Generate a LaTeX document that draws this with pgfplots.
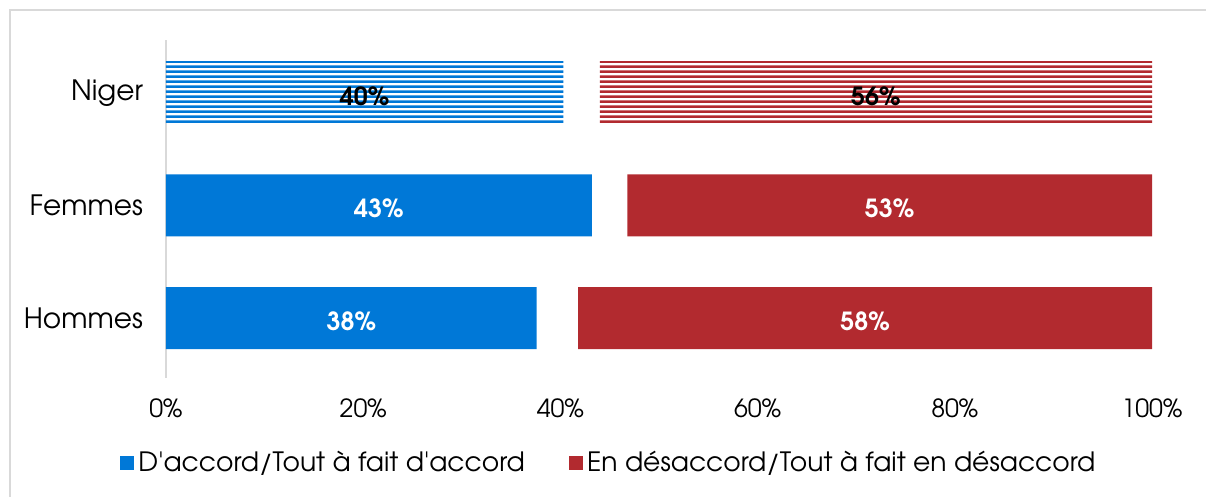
\documentclass[border=0pt]{standalone}
\usepackage{fontspec}
\setmainfont{TeX Gyre Adventor}
\usepackage{pgfplots}
\pgfplotsset{compat=1.18}
\usetikzlibrary{patterns.meta}
\definecolor{clrAgree}{RGB}{0,120,215}
\definecolor{clrDisagree}{RGB}{178,42,47}
\definecolor{clrFrame}{RGB}{217,217,217}

% horizontal stripes for the Niger row
\pgfdeclarepattern{
  name=hstripes, type=uncolored,
  bottom left={\pgfpoint{0pt}{0pt}}, top right={\pgfpoint{20pt}{2.4pt}},
  tile size={\pgfpoint{20pt}{2.4pt}},
  code={\pgfpathrectangle{\pgfpoint{-0.5pt}{0pt}}{\pgfpoint{21pt}{1.3pt}}\pgfusepath{fill}}}

\begin{document}
\begin{tikzpicture}
% 1 px of the reference = 0.5pt; origin = axis south west (px 166,378)
\useasboundingbox (-83pt,-59.5pt) rectangle (520pt,189pt);
\draw[clrFrame, line width=1pt] (-78pt,-70pt) rectangle (530pt,184pt);
\begin{axis}[
  xbar stacked,
  scale only axis,
  width=493pt, height=169pt,
  bar width=31pt,
  xmin=0, xmax=100,
  ymin=-0.533, ymax=2.47,
  ytick={0,1,2},
  yticklabels={Hommes, Femmes, Niger},
  xtick={0,20,...,100},
  xticklabel={\pgfmathprintnumber{\tick}\%},
  major tick length=0pt,
  axis x line*=bottom, axis y line*=left,
  x axis line style={draw=none},
  y axis line style={draw=clrFrame, line width=1pt, -},
  tick label style={font=\fontsize{12.5}{14}\selectfont, text=black},
  yticklabel style={xshift=-8pt, font=\fontsize{14}{16}\selectfont},
  xticklabel style={yshift=-7pt},
  /pgf/number format/assume math mode=true,
  point meta=explicit symbolic,
  nodes near coords,
  every node near coord/.append style={
    font=\bfseries\fontsize{12.5}{14}\selectfont, anchor=center, yshift=-1.5pt},
  legend style={at={(0.45,-0.251)}, anchor=center, draw=none,
    legend columns=2, font=\fontsize{13.3}{15}\selectfont,
    /tikz/every even column/.append style={column sep=20pt}},
  legend image code/.code={\fill[#1] (1pt,-3.6pt) rectangle (8.2pt,3.6pt);},
]
% Hommes, Femmes (solid)
\addplot+[fill=clrAgree, draw=none, every node near coord/.append style={text=white}]
  coordinates {(37.6,0)[38\%] (43.2,1)[43\%] (0,2)[]};
% Niger (striped)
\addplot+[fill=clrAgree!20, pattern=hstripes, pattern color=clrAgree, draw=none,
  every node near coord/.append style={text=black}, forget plot]
  coordinates {(0,0)[] (0,1)[] (40.3,2)[40\%]};
% share left blank between the two answers
\addplot+[fill=none, draw=none, forget plot]
  coordinates {(4.2,0)[] (3.6,1)[] (3.7,2)[]};
\addplot+[fill=clrDisagree, draw=none, every node near coord/.append style={text=white}]
  coordinates {(58.2,0)[58\%] (53.2,1)[53\%] (0,2)[]};
\addplot+[fill=clrDisagree!20, pattern=hstripes, pattern color=clrDisagree, draw=none,
  every node near coord/.append style={text=black}, forget plot]
  coordinates {(0,0)[] (0,1)[] (56,2)[56\%]};
\legend{D\textquotesingle accord/Tout à fait d\textquotesingle accord, En désaccord/Tout à fait en désaccord}
\end{axis}
\end{tikzpicture}
\end{document}
